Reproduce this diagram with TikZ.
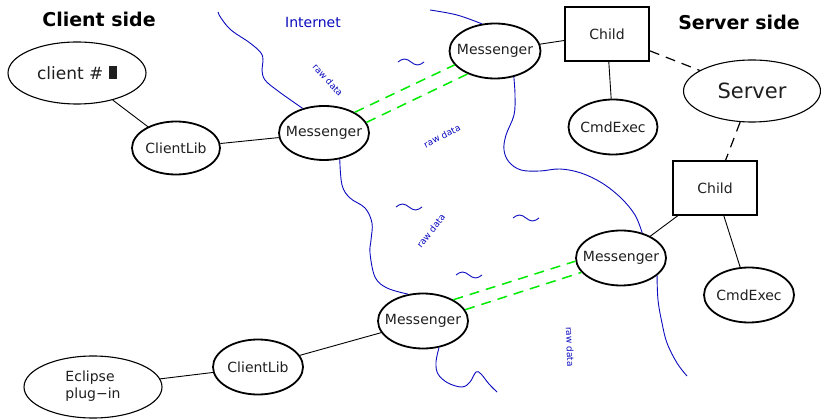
\documentclass[tikz,border=0pt]{standalone}
\usepackage{fontspec}
\setmainfont{DejaVu Sans}
\usetikzlibrary{shapes.geometric}
\definecolor{netblue}{RGB}{10,10,190}
\definecolor{linkgreen}{RGB}{0,235,0}
\newcommand{\zw}[1]{\makebox[0pt]{#1}}
\begin{document}
\begin{tikzpicture}[x=1pt,y=-1pt,
  every node/.style={font=\fontsize{14}{17}\selectfont, text=black!88},
  thickell/.style={ellipse, draw, line width=1.8pt, inner sep=0pt},
  thinell/.style={ellipse, draw, line width=1.1pt, inner sep=0pt},
  childbox/.style={rectangle, draw, line width=1.8pt, minimum width=84pt, minimum height=54pt, inner sep=0pt},
  conn/.style={line width=0.9pt},
  dconn/.style={line width=1.2pt, dash pattern=on 10pt off 7pt},
  glink/.style={linkgreen, line width=1.5pt, dash pattern=on 10pt off 7pt},
  net/.style={netblue, line width=0.9pt},
  rawlbl/.style={text=netblue, font=\fontsize{9}{10}\selectfont, inner sep=0pt},
  title/.style={font=\bfseries\fontsize{19}{22}\selectfont, text=black},
  wave/.pic={\draw[net] (-13,0) sin (-6.5,-3) cos (0,0) sin (6.5,3) cos (13,0);}
]
\useasboundingbox (0,0) rectangle (821,419);

% titles
\node[title] (tclient) at (99,19) {Client side};
\node[title] (tserver) at (739,22) {Server side};
\node[text=netblue] (tnet) at (313,23) {Internet};

% client side nodes
\node[thinell, minimum width=138pt, minimum height=62pt, font=\fontsize{17}{20}\selectfont] (client) at (77,73) {\zw{client \# \rule{8pt}{13pt}}};
\node[thickell, minimum width=88pt, minimum height=53pt] (cl1) at (176,148) {\zw{ClientLib}};
\node[thickell, minimum width=90pt, minimum height=54pt] (m1) at (324,133) {\zw{Messenger}};
\node[thinell, minimum width=138pt, minimum height=62pt] (eclipse) at (93,387) {\zw{\begin{tabular}{@{}l@{}}Eclipse\\plug\textminus in\end{tabular}}};
\node[thickell, minimum width=90pt, minimum height=55pt] (cl2) at (258,367) {\zw{ClientLib}};
\node[thickell, minimum width=90pt, minimum height=55pt] (m3) at (423,321) {\zw{Messenger}};

% server side nodes
\node[thickell, minimum width=91pt, minimum height=55pt] (m2) at (495,51) {\zw{Messenger}};
\node[childbox] (child1) at (607,34) {Child};
\node[thickell, minimum width=89pt, minimum height=55pt] (cmd1) at (613,127) {\zw{CmdExec}};
\node[thinell, minimum width=137pt, minimum height=62pt, font=\fontsize{21}{24}\selectfont] (server) at (752,91) {\zw{Server}};
\node[childbox] (child2) at (715,188) {Child};
\node[thickell, minimum width=90pt, minimum height=55pt] (m4) at (621,258) {\zw{Messenger}};
\node[thickell, minimum width=90pt, minimum height=55pt] (cmd2) at (749,295) {\zw{CmdExec}};

% connectors
\draw[conn] (client) -- (cl1);
\draw[conn] (cl1) -- (m1);
\draw[conn] (eclipse) -- (cl2);
\draw[conn] (cl2) -- (m3);
\draw[conn] (m2) -- (child1);
\draw[conn] (child1) -- (cmd1);
\draw[dconn] (child1) -- (server);
\draw[dconn] (server) -- (child2);
\draw[conn] (child2) -- (m4);
\draw[conn] (child2) -- (cmd2);

% green links
\draw[glink] (m1.34) -- (m2.199);
\draw[glink] (m1.14) -- (m2.220);
\draw[glink] (m3.35) -- (m4.184);
\draw[glink] (m3.15) -- (m4.200);

% internet boundaries
\draw[net] plot[smooth, tension=0.6] coordinates {(218,12) (221,18) (231,30) (250,43) (261,53) (263,61) (262,70) (265,80) (278,91) (m1.131)};
\draw[net] plot[smooth, tension=0.6] coordinates {(430,10) (457,15) (m2.116)};
\draw[net] plot[smooth, tension=0.6] coordinates {(m2.-54) (515,95) (514,115) (506,135) (504,150) (509,162) (521,170) (540,171) (560,169) (581,173) (602,183) (621,198) (635,215) (m4.50)};
\draw[net] plot[smooth, tension=0.6] coordinates {(m4.-26) (658,300) (662,323) (667,343) (677,363) (687,376)};
\draw[net] plot[smooth, tension=0.6] coordinates {(m1.-59) (342,185) (350,198) (365,208) (372,223) (371,240) (370,253) (375,277) (387,288) (m3.119)};
\draw[net] plot[smooth, tension=0.6] coordinates {(m3.-59) (436,362) (438,374) (448,383) (462,387) (470,382) (476,372) (481,374) (489,384) (497,392)};

% waves
\pic at (411,62) {wave};
\pic at (409,207) {wave};
\pic at (526,218) {wave};
\pic at (469,275) {wave};

% raw data labels
\node[rawlbl, rotate=-48] (rd1) at (328,80) {raw data};
\node[rawlbl, rotate=27] (rd2) at (442,136) {raw data};
\node[rawlbl, rotate=52] (rd3) at (431,231) {raw data};
\node[rawlbl, rotate=-88] (rd4) at (570,347) {raw data};
\end{tikzpicture}
\end{document}
